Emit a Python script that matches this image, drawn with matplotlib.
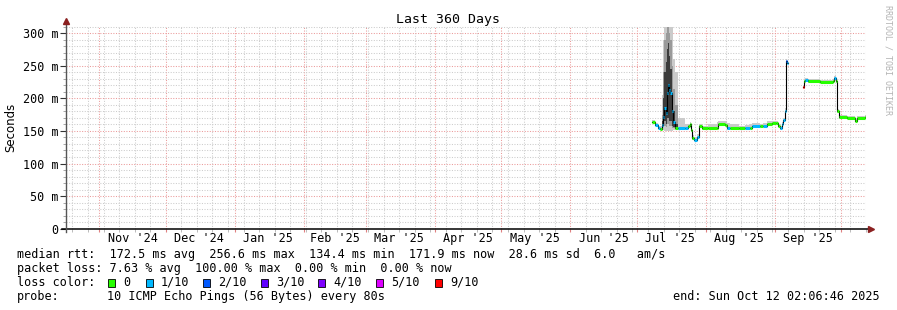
import numpy as np
import pandas as pd
import matplotlib
matplotlib.use('Agg')
import matplotlib.pyplot as plt
import matplotlib.dates as mdates
from matplotlib.ticker import MultipleLocator, FuncFormatter

# median rtt (ms), loss (tenths) and smoke range per sample
times = ["2025-07-07 21:00", "2025-07-09 02:00", "2025-07-10 08:00", "2025-07-11 08:00",
         "2025-07-12 03:00", "2025-07-12 20:00", "2025-07-13 07:00", "2025-07-13 22:00",
         "2025-07-14 09:00", "2025-07-14 20:00", "2025-07-15 10:00", "2025-07-15 20:00",
         "2025-07-16 15:00", "2025-07-16 21:00", "2025-07-17 08:00", "2025-07-18 02:00",
         "2025-07-19 14:00", "2025-07-22 14:00", "2025-07-24 02:00", "2025-07-24 20:00",
         "2025-07-25 07:00", "2025-07-25 21:00", "2025-07-26 19:00", "2025-07-27 21:00",
         "2025-07-28 22:00", "2025-07-30 03:00", "2025-08-02 00:00", "2025-08-05 21:00",
         "2025-08-06 14:00", "2025-08-09 14:00", "2025-08-10 09:00", "2025-08-12 00:00",
         "2025-08-16 00:00", "2025-08-18 12:00", "2025-08-20 20:00", "2025-08-21 15:00",
         "2025-08-25 08:00", "2025-08-26 20:00", "2025-08-28 09:00", "2025-08-30 15:00",
         "2025-09-01 13:00", "2025-09-02 14:00", "2025-09-03 08:00", "2025-09-04 03:00",
         "2025-09-04 20:00", "2025-09-05 14:00", "2025-09-06 01:00", "2025-09-06 15:00",
         "2025-09-07 00:00",
         "2025-09-13 14:00", "2025-09-14 04:00", "2025-09-14 14:00", "2025-09-16 02:00",
         "2025-09-21 08:00", "2025-09-27 08:00", "2025-09-27 19:00", "2025-09-28 13:00",
         "2025-09-28 21:00", "2025-09-30 01:00", "2025-10-03 09:00", "2025-10-07 02:00",
         "2025-10-07 21:00", "2025-10-11 14:00", "2025-10-12 02:00"]
median = [164, 159, 155, 153, 159, 172, 185, 177, 208, 221, 213, 208, 200, 180, 164, 155,
          154, 154, 157, 161, 151, 139, 136, 141, 157, 154, 155, 154, 161, 159, 154, 155,
          154, 155, 155, 157, 157, 158, 161, 162, 162, 158, 154, 160, 167, 181, 257, 254,
          np.nan,
          218, 226, 228, 226, 225, 226, 231, 226, 180, 171, 170, 166, 170, 172, 172]
loss = [0, 1, 1, 0, 1, 1, 1, 1, 1, 1, 1, 1, 1, 1, 1, 0,
        1, 1, 0, 0, 0, 0, 1, 1, 0, 0, 0, 0, 0, 0, 1, 0,
        0, 1, 0, 1, 0, 1, 0, 0, 0, 0, 1, 1, 1, 1, 2, 1,
        0,
        9, 0, 1, 0, 0, 0, 1, 0, 0, 0, 0, 0, 0, 0, 0]
smoke_lo = [162, 157, 153, 151, 152, 152, 150, 150, 150, 150, 150, 150, 150, 150, 152, 152,
            152, 152, 155, 158, 149, 136, 134, 139, 155, 152, 153, 152, 159, 157, 152, 153,
            152, 153, 153, 155, 155, 156, 159, 160, 160, 156, 152, 158, 165, 178, 242, 240,
            np.nan,
            216, 224, 226, 224, 223, 224, 228, 224, 178, 169, 168, 164, 168, 170, 170]
smoke_hi = [167, 162, 158, 157, 205, 290, 310, 310, 310, 310, 310, 310, 300, 310, 260, 240,
            170, 160, 161, 164, 156, 143, 140, 145, 161, 158, 160, 163, 166, 165, 162, 160,
            158, 159, 160, 162, 161, 162, 165, 166, 165, 161, 158, 164, 170, 185, 261, 258,
            np.nan,
            221, 229, 231, 229, 228, 229, 234, 229, 183, 174, 173, 169, 173, 175, 175]

# darker layers of the smoke during the jitter burst
core_times = ["2025-07-12 03:00", "2025-07-12 20:00", "2025-07-13 07:00", "2025-07-13 22:00",
              "2025-07-14 09:00", "2025-07-14 20:00", "2025-07-15 10:00", "2025-07-15 20:00",
              "2025-07-16 15:00", "2025-07-16 21:00", "2025-07-17 08:00", "2025-07-18 02:00",
              "2025-07-19 14:00"]
mid_lo = [154, 156, 158, 156, 160, 160, 158, 158, 156, 155, 154, 153, 153]
mid_hi = [175, 240, 290, 300, 310, 310, 300, 290, 270, 250, 215, 190, 153]
core_lo = [156, 160, 165, 160, 170, 170, 165, 165, 160, 158, 156, 155, 155]
core_hi = [165, 200, 240, 255, 275, 285, 265, 245, 225, 205, 180, 160, 155]

loss_levels = [0, 1, 2, 3, 4, 5, 9]
loss_labels = ['0', '1/10', '2/10', '3/10', '4/10', '5/10', '9/10']
loss_colors = ['#26ff00', '#00b8ff', '#0059ff', '#5e00ff', '#7e00ff', '#dd00ff', '#ff0000']

month_labels = ["Nov '24", "Dec '24", "Jan '25", "Feb '25", "Mar '25", "Apr '25",
                "May '25", "Jun '25", "Jul '25", "Aug '25", "Sep '25"]
month_mid = ["2024-11-16", "2024-12-16", "2025-01-16", "2025-02-15", "2025-03-16", "2025-04-16",
             "2025-05-16", "2025-06-16", "2025-07-16", "2025-08-16", "2025-09-16"]

start = pd.Timestamp("2024-10-17 02:06:46")
end = pd.Timestamp("2025-10-12 02:06:46")

mono = 'DejaVu Sans Mono'
W, H = 897, 310

fig = plt.figure(figsize=(W / 100, H / 100), dpi=100)
fig.patch.set_facecolor('white')
ax = fig.add_axes([66 / W, (H - 228.7) / H, 800 / W, (228.7 - 26) / H])

t = mdates.date2num(pd.to_datetime(times))
tc = mdates.date2num(pd.to_datetime(core_times))
med = np.array(median, dtype=float)

ax.fill_between(t, smoke_lo, smoke_hi, step='post', color='#cbcbcb', lw=0, zorder=2)
ax.fill_between(tc, mid_lo, mid_hi, step='post', color='#9a9a9a', lw=0, zorder=2.3)
ax.fill_between(tc, core_lo, core_hi, step='post', color='#3c3c3c', lw=0, zorder=2.5)
ax.plot(t, med, drawstyle='steps-post', color='black', lw=0.8, zorder=3)
cmap = dict(zip(loss_levels, loss_colors))
ax.hlines(med[:-1], t[:-1], t[1:], colors=[cmap[l] for l in loss[:-1]], lw=2.2, zorder=4)

ax.set_xlim(start, end)
ax.set_ylim(0, 311)

# grid
ax.xaxis.set_major_locator(mdates.MonthLocator())
ax.xaxis.set_minor_locator(mdates.WeekdayLocator(byweekday=mdates.SU))
ax.yaxis.set_major_locator(MultipleLocator(50))
ax.yaxis.set_minor_locator(MultipleLocator(10))
ax.grid(which='minor', color='#cccccc', linestyle=(0, (1, 1.5)), lw=0.75, zorder=0)
ax.grid(which='major', color='#eb9a9a', linestyle=(0, (1, 1.5)), lw=0.75, zorder=1)
ax.set_axisbelow(True)

ax.xaxis.set_major_formatter(FuncFormatter(lambda v, p: ''))
ax.yaxis.set_major_formatter(FuncFormatter(lambda v, p: '0' if v == 0 else '%d m' % v))
ax.tick_params(axis='x', which='major', length=2.5, color='#e08080', labelsize=0)
ax.tick_params(axis='x', which='minor', length=2, color='#b0b0b0')
ax.tick_params(axis='y', which='major', length=4.3, color='#333333', pad=1.2, labelsize=8.5)
ax.tick_params(axis='y', which='minor', length=2.2, color='#999999')
for lab in ax.get_yticklabels():
    lab.set_family(mono)

for s in ax.spines.values():
    s.set_visible(False)

# axis lines with arrows
ax.plot([-4 / 800, 1 + 2 / 800], [0, 0], transform=ax.transAxes, clip_on=False, color='black', lw=1.1, zorder=5)
ax.plot([0, 0], [-3 / 202.7, 1 + 2 / 202.7], transform=ax.transAxes, clip_on=False, color='#555555', lw=1.0, zorder=5)
ax.plot([1 + 5 / 800], [0], marker='>', ms=4.5, color='#8b2020', transform=ax.transAxes, clip_on=False, zorder=6)
ax.plot([0], [1 + 5 / 202.7], marker='^', ms=4.5, color='#8b2020', transform=ax.transAxes, clip_on=False, zorder=6)

for lab, d in zip(month_labels, month_mid):
    ax.text(mdates.date2num(pd.Timestamp(d)), -9.5 / 202.7, lab, transform=ax.get_xaxis_transform(),
            ha='center', va='center', family=mono, fontsize=8.5)

def ftext(x, y, s, size=8.5, **kw):
    fig.text(x / W, 1 - y / H, s, va='center', family=mono, fontsize=size, **kw)

ftext(447.7, 19, 'Last 360 Days', ha='center', size=9.5)
fig.text(11 / W, 1 - 127.5 / H, 'Seconds', rotation=90, ha='center', va='center', family='DejaVu Sans', fontsize=8.5)
ftext(888, 60, 'RRDTOOL / TOBI OETIKER', ha='center', rotation=270, size=6, color='#b4b4b4')

ftext(16.7, 254.3, 'median rtt:  172.5 ms avg  256.6 ms max  134.4 ms min  171.9 ms now  28.6 ms sd  6.0   am/s')
ftext(16.7, 268.3, 'packet loss: 7.63 % avg  100.00 % max  0.00 % min  0.00 % now')
ftext(16.7, 282.3, 'loss color:')
ftext(16.7, 296.3, 'probe:')
ftext(107.3, 296.3, '10 ICMP Echo Pings (56 Bytes) every 80s')
ftext(880, 296.3, 'end: Sun Oct 12 02:06:46 2025', ha='right')

box_x = [108, 146, 203, 261, 318, 376, 435]
for bx, c, lab in zip(box_x, loss_colors, loss_labels):
    fig.patches.append(plt.Rectangle((bx / W, 1 - 286.5 / H), 7.3 / W, 7.3 / H, transform=fig.transFigure,
                                     facecolor=c, edgecolor='black', lw=0.6))
    ftext(bx + 15, 282.3, lab)

fig.savefig('out.png', dpi=100)
